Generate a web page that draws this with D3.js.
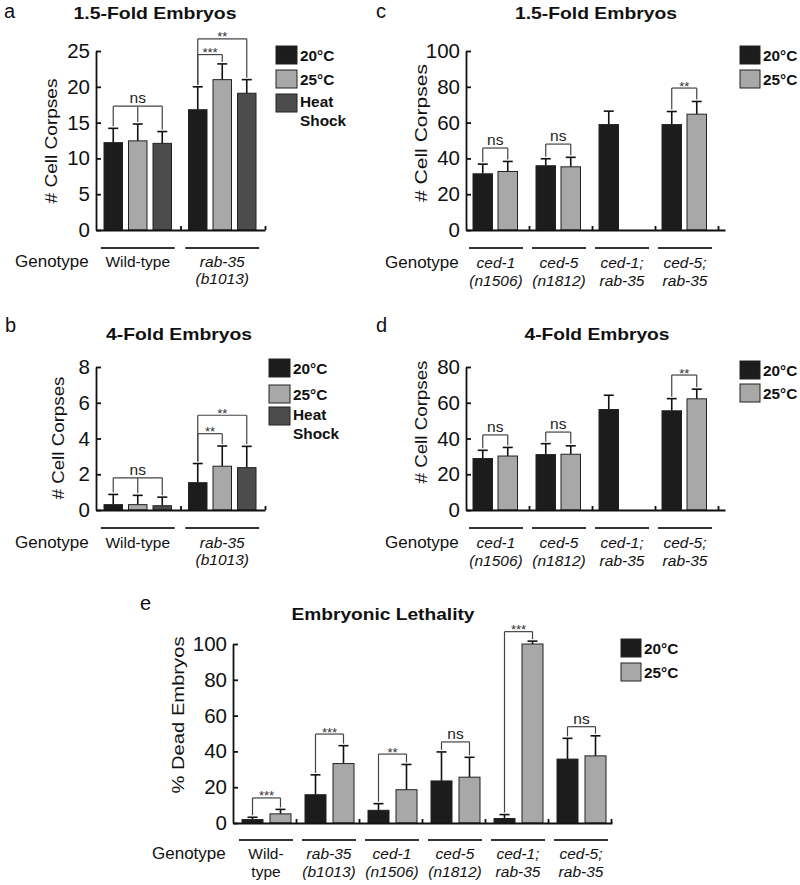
<!DOCTYPE html>
<html><head><meta charset="utf-8">
<script src="https://cdn.jsdelivr.net/npm/d3@7"></script>
<style>body{margin:0;background:#fff}svg{display:block}</style>
</head><body>
<svg id="chart" width="800" height="885"></svg>
<script>
// ---------------- DATA ----------------
const seriesAB = ["20°C", "25°C", "Heat Shock"];
const seriesCDE = ["20°C", "25°C"];

const genotypesAB = [["Wild-type"], ["rab-35", "(b1013)"]];
const italicAB = [false, true];
const genotypesCD = [["ced-1", "(n1506)"], ["ced-5", "(n1812)"], ["ced-1;", "rab-35"], ["ced-5;", "rab-35"]];
const italicCD = [true, true, true, true];
const genotypesE = [["Wild-", "type"], ["rab-35", "(b1013)"], ["ced-1", "(n1506)"], ["ced-5", "(n1812)"], ["ced-1;", "rab-35"], ["ced-5;", "rab-35"]];
const italicE = [false, true, true, true, true, true];

const ticksA = [0, 5, 10, 15, 20, 25];
const ticksB = [0, 2, 4, 6, 8];
const ticksC = [0, 20, 40, 60, 80, 100];
const ticksD = [0, 20, 40, 60, 80];
const ticksE = [0, 20, 40, 60, 80, 100];

// panel a: 1.5-fold, wild-type vs rab-35
const meansA = [[12.2, 12.45, 12.1], [16.8, 21.0, 19.1]];
const errorsA = [[2.0, 2.35, 1.65], [3.2, 2.2, 1.9]];
const bracketsA = [
  {group: 0, bars: [0, 1, 2], level: 17.3, label: "ns"},
  {group: 1, bars: [0, 1], level: 24.5, label: "***"},
  {group: 1, bars: [0, 2], level: 26.7, label: "**"}
];
// panel b: 4-fold
const meansB = [[0.3, 0.3, 0.24], [1.53, 2.45, 2.37]];
const errorsB = [[0.57, 0.52, 0.48], [1.07, 1.13, 1.19]];
const bracketsB = [
  {group: 0, bars: [0, 1, 2], level: 1.8, label: "ns"},
  {group: 1, bars: [0, 1], level: 4.27, label: "**"},
  {group: 1, bars: [0, 2], level: 5.3, label: "**"}
];
// panel c: 1.5-fold engulfment mutants
const meansC = [[31.4, 32.7], [35.9, 35.3], [58.9, null], [58.9, 64.7]];
const errorsC = [[5.4, 5.6], [3.9, 5.3], [7.5, null], [7.3, 7.1]];
const bracketsC = [
  {group: 0, bars: [0, 1], level: 45.8, label: "ns"},
  {group: 1, bars: [0, 1], level: 48, label: "ns"},
  {group: 3, bars: [0, 1], level: 79.3, label: "**"}
];
// panel d: 4-fold engulfment mutants
const meansD = [[28.8, 30.2], [31.0, 31.2], [56.2, null], [55.5, 62.2]];
const errorsD = [[4.6, 4.8], [6.1, 4.7], [8.0, null], [6.8, 5.4]];
const bracketsD = [
  {group: 0, bars: [0, 1], level: 42, label: "ns"},
  {group: 1, bars: [0, 1], level: 43.6, label: "ns"},
  {group: 3, bars: [0, 1], level: 75.5, label: "**"}
];
// panel e: embryonic lethality (%)
const meansE = [[1.9, 5.1], [15.8, 33.2], [7.1, 18.6], [23.5, 25.6], [2.5, 100], [35.7, 37.5]];
const errorsE = [[1.3, 2.5], [11.1, 10.0], [3.7, 14.1], [16.2, 11.1], [2.2, 1.6], [11.6, 11.2]];
const bracketsE = [
  {group: 0, bars: [0, 1], level: 14.0, label: "***"},
  {group: 1, bars: [0, 1], level: 49.7, label: "***"},
  {group: 2, bars: [0, 1], level: 38.5, label: "**"},
  {group: 3, bars: [0, 1], level: 45.3, label: "ns"},
  {group: 4, bars: [0, 1], level: 106.9, label: "***"},
  {group: 5, bars: [0, 1], level: 53.8, label: "ns"}
];

// ---------------- STYLE ----------------
const FONT = '"Liberation Sans", Arial, Helvetica, sans-serif';
const colors3 = ["#1c1c1c", "#a8a8a8", "#4c4c4c"];
const colors2 = ["#1c1c1c", "#a8a8a8"];
const svg = d3.select("#chart").attr("font-family", FONT);

function fit(sel, len) { sel.attr("textLength", len).attr("lengthAdjust", "spacingAndGlyphs"); }

function drawPanel(p) {
  const g = svg.append("g");
  const n = p.genotypes.length, k = p.series.length;
  const xG = d3.scaleBand().domain(d3.range(n)).range([p.x0, p.x0 + n * p.step]);
  const inner = d3.scaleBand().domain(d3.range(k))
    .range([p.pad, p.pad + k * p.barW + (k - 1) * p.gap])
    .paddingInner(p.gap / (p.barW + p.gap));
  const y = d3.scaleLinear().domain([0, d3.max(p.ticks)]).range([p.yBase, p.yTop]);
  const cx = (gi, si) => xG(gi) + inner(si) + inner.bandwidth() / 2;

  const recs = [];
  p.means.forEach((row, gi) => row.forEach((v, si) => {
    if (v != null) recs.push({gi, si, v, e: p.errors[gi][si]});
  }));

  // error bars
  const eb = g.append("g").attr("stroke", "#111").attr("stroke-width", 1.6);
  eb.selectAll("line.v").data(recs).join("line").attr("class", "v")
    .attr("x1", d => cx(d.gi, d.si)).attr("x2", d => cx(d.gi, d.si))
    .attr("y1", d => y(d.v)).attr("y2", d => y(d.v + d.e));
  eb.selectAll("line.c").data(recs).join("line").attr("class", "c")
    .attr("x1", d => cx(d.gi, d.si) - 5).attr("x2", d => cx(d.gi, d.si) + 5)
    .attr("y1", d => y(d.v + d.e)).attr("y2", d => y(d.v + d.e));

  // bars
  g.append("g").selectAll("rect").data(recs).join("rect")
    .attr("x", d => xG(d.gi) + inner(d.si))
    .attr("y", d => y(d.v))
    .attr("width", inner.bandwidth())
    .attr("height", d => y(0) - y(d.v))
    .attr("fill", d => p.colors[d.si])
    .attr("stroke", "#222").attr("stroke-width", 1);

  // axes
  const ya = g.append("g").attr("transform", `translate(${p.x0},0)`)
    .call(d3.axisLeft(y).tickValues(p.ticks).tickSizeInner(-5).tickSizeOuter(0).tickPadding(6));
  ya.attr("font-size", 20.5).attr("font-family", FONT);
  ya.selectAll("text").attr("fill", "#111");
  ya.selectAll("line,path").attr("stroke", "#111").attr("stroke-width", 1.8);

  const xLin = d3.scaleLinear().domain([0, (p.axisEnd - p.x0) / p.step]).range([p.x0, p.axisEnd]);
  const xa = g.append("g").attr("transform", `translate(0,${p.yBase})`)
    .call(d3.axisBottom(xLin).tickValues(d3.range(1, n + 1)).tickSizeInner(-4).tickSizeOuter(0).tickFormat(""));
  xa.selectAll("line,path").attr("stroke", "#111").attr("stroke-width", 1.8);

  // significance brackets
  const bg = g.append("g");
  p.brackets.forEach(b => {
    const xs = b.bars.map(s => cx(b.group, s));
    const yb = y(b.level);
    bg.append("line").attr("x1", d3.min(xs)).attr("x2", d3.max(xs)).attr("y1", yb).attr("y2", yb)
      .attr("stroke", "#444").attr("stroke-width", 1.2);
    b.bars.forEach(s => {
      const top = y(p.means[b.group][s] + p.errors[b.group][s]) - 2;
      bg.append("line").attr("x1", cx(b.group, s)).attr("x2", cx(b.group, s))
        .attr("y1", yb).attr("y2", top).attr("stroke", "#444").attr("stroke-width", 1.2);
    });
    const mx = (d3.min(xs) + d3.max(xs)) / 2;
    if (b.label === "ns") {
      bg.append("text").attr("x", mx).attr("y", yb - 3).attr("text-anchor", "middle")
        .attr("font-size", 15.5).attr("fill", "#222").text(b.label);
    } else {
      bg.append("text").attr("x", mx).attr("y", yb + 2.5).attr("text-anchor", "middle")
        .attr("font-size", 13).attr("fill", "#333").text(b.label);
    }
  });

  // genotype underlines + labels
  g.append("g").selectAll("line").data(d3.range(n)).join("line")
    .attr("x1", i => xG(i) + p.step / 2 - p.ulW / 2 + p.ulShift)
    .attr("x2", i => xG(i) + p.step / 2 + p.ulW / 2 + p.ulShift)
    .attr("y1", p.ulY).attr("y2", p.ulY).attr("stroke", "#333").attr("stroke-width", 2);
  const lg = g.append("g").attr("font-size", 15.5).attr("fill", "#111").attr("text-anchor", "middle");
  p.genotypes.forEach((lines, i) => {
    lines.forEach((t, li) => {
      lg.append("text").attr("x", xG(i) + p.step / 2 + p.ulShift).attr("y", p.genoY[li])
        .attr("font-style", p.italic[i] ? "italic" : "normal").text(t);
    });
  });
  g.append("text").attr("x", p.genoX).attr("y", p.genoY[0]).attr("font-size", 17).attr("fill", "#111").text("Genotype");

  // y title
  const yt = g.append("text").attr("transform", `translate(${p.ytX},${p.ytY}) rotate(-90)`)
    .attr("text-anchor", "middle").attr("font-size", 17).attr("fill", "#111").text(p.yTitle);
  fit(yt, p.ytLen);

  // title
  const tt = g.append("text").attr("x", p.titleX).attr("y", p.titleY).attr("text-anchor", "middle")
    .attr("font-size", 16.5).attr("font-weight", "bold").attr("fill", "#111").text(p.title);
  fit(tt, p.titleLen);

  // panel letter
  g.append("text").attr("x", p.letterX).attr("y", p.letterY).attr("font-size", 20).attr("fill", "#111").text(p.letter);

  // legend
  const leg = g.append("g");
  p.series.forEach((s, i) => {
    const by = p.legY[i];
    leg.append("rect").attr("x", p.legX).attr("y", by).attr("width", p.legW).attr("height", 18)
      .attr("fill", p.colors[i]).attr("stroke", "#222").attr("stroke-width", 1);
    const words = s === "Heat Shock" ? ["Heat", "Shock"] : [s];
    words.forEach((w, wi) => {
      const t = leg.append("text").attr("x", p.legX + p.legW + 3).attr("y", by + 9 + 5.5 + (words.length > 1 ? wi * 19 - 2 : 0))
        .attr("font-size", 14.5).attr("font-weight", "bold").attr("fill", "#111").text(w);
      const L = t.node().getComputedTextLength();
      fit(t, L * 1.06);
    });
  });
}

drawPanel({letter: "a", letterX: 4, letterY: 18, title: "1.5-Fold Embryos", titleX: 155, titleY: 19, titleLen: 163,
  series: seriesAB, colors: colors3, genotypes: genotypesAB, italic: italicAB, ticks: ticksA,
  means: meansA, errors: errorsA, brackets: bracketsA,
  x0: 96, step: 84.5, axisEnd: 265, yBase: 230, yTop: 51, pad: 8, barW: 18.5, gap: 6,
  ulY: 248, ulW: 74, ulShift: -0.5, genoY: [267, 284], genoX: 15,
  yTitle: "# Cell Corpses", ytX: 57, ytY: 141, ytLen: 125,
  legX: 276, legW: 21, legY: [46, 70, 94]});

drawPanel({letter: "b", letterX: 5, letterY: 332, title: "4-Fold Embryos", titleX: 179, titleY: 340, titleLen: 146,
  series: seriesAB, colors: colors3, genotypes: genotypesAB, italic: italicAB, ticks: ticksB,
  means: meansB, errors: errorsB, brackets: bracketsB,
  x0: 96, step: 84.5, axisEnd: 265, yBase: 510, yTop: 367, pad: 8, barW: 18.5, gap: 6,
  ulY: 528, ulW: 74, ulShift: -0.5, genoY: [548, 565], genoX: 15,
  yTitle: "# Cell Corpses", ytX: 64, ytY: 438, ytLen: 123,
  legX: 269, legW: 21, legY: [359, 385, 407]});

drawPanel({letter: "c", letterX: 376, letterY: 18, title: "1.5-Fold Embryos", titleX: 596, titleY: 19, titleLen: 162,
  series: seriesCDE, colors: colors2, genotypes: genotypesCD, italic: italicCD, ticks: ticksC,
  means: meansC, errors: errorsC, brackets: bracketsC,
  x0: 466, step: 63, axisEnd: 725, yBase: 230, yTop: 51, pad: 7, barW: 19.5, gap: 5.5,
  ulY: 248, ulW: 54, ulShift: -1.5, genoY: [268, 286], genoX: 385,
  yTitle: "# Cell Corpses", ytX: 427, ytY: 133, ytLen: 138,
  legX: 740, legW: 20, legY: [46, 70]});

drawPanel({letter: "d", letterX: 376, letterY: 332, title: "4-Fold Embryos", titleX: 597, titleY: 340, titleLen: 145,
  series: seriesCDE, colors: colors2, genotypes: genotypesCD, italic: italicCD, ticks: ticksD,
  means: meansD, errors: errorsD, brackets: bracketsD,
  x0: 466, step: 63, axisEnd: 725, yBase: 510, yTop: 367, pad: 7, barW: 19.5, gap: 5.5,
  ulY: 528, ulW: 54, ulShift: -1.5, genoY: [548, 566], genoX: 385,
  yTitle: "# Cell Corpses", ytX: 427, ytY: 422, ytLen: 123,
  legX: 740, legW: 20, legY: [361, 384]});

drawPanel({letter: "e", letterX: 140, letterY: 610, title: "Embryonic Lethality", titleX: 383, titleY: 620, titleLen: 183,
  series: seriesCDE, colors: colors2, genotypes: genotypesE, italic: italicE, ticks: ticksE,
  means: meansE, errors: errorsE, brackets: bracketsE,
  x0: 233, step: 63, axisEnd: 612, yBase: 823, yTop: 644, pad: 9, barW: 21, gap: 7,
  ulY: 840, ulW: 54, ulShift: 1.5, genoY: [859, 877], genoX: 152,
  yTitle: "% Dead Embryos", ytX: 184, ytY: 715, ytLen: 157,
  legX: 621, legW: 20, legY: [639, 663]});
</script>
</body></html>
